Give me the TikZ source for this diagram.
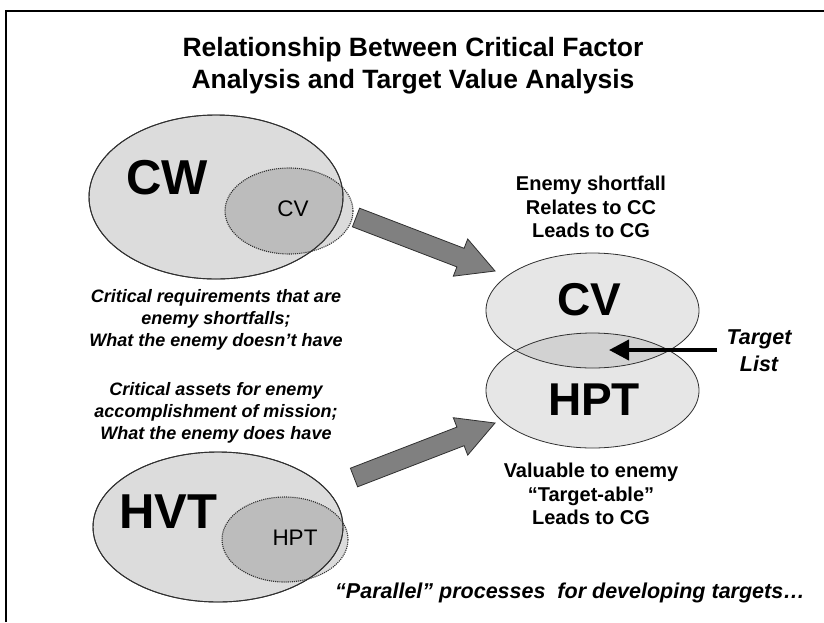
\documentclass[tikz,border=0pt]{standalone}
\usepackage{fontspec}
\setmainfont{Liberation Sans}
\usetikzlibrary{arrows.meta}
\definecolor{ellfill}{HTML}{DCDCDC}
\definecolor{rfill}{HTML}{E6E6E6}
\definecolor{lensfill}{HTML}{D2D2D2}
\definecolor{arrowfill}{HTML}{808080}
\definecolor{edge}{HTML}{303030}
\begin{document}
\begin{tikzpicture}[x=1pt,y=-1pt,
  bigell/.style={draw=edge, line width=0.9pt, fill=ellfill},
  subell/.style={fill=black, fill opacity=0.14},
  subedge/.style={draw=edge, densely dotted, line width=1.1pt},
  rell/.style={draw=edge, line width=0.8pt},
  blockarrow/.style={draw=edge, line width=0.8pt, fill=arrowfill, line join=miter},
  bigtxt/.style={font=\fontsize{46}{50}\selectfont\bfseries, inner sep=0pt},
  leftbig/.style={font=\fontsize{49}{52}\selectfont\bfseries, inner sep=0pt},
  smalltxt/.style={font=\fontsize{22.5}{26}\selectfont, inner sep=0pt},
  notetxt/.style={font=\fontsize{18}{22}\selectfont\bfseries\itshape, align=center, inner sep=0pt},
  sidetxt/.style={font=\fontsize{20}{23.5}\selectfont\bfseries, align=center, inner sep=0pt}
]
\useasboundingbox (0,0) rectangle (824,622);
% frame
\draw[line width=2pt] (6,622) -- (6,11) -- (824,11);

% title
\node[font=\fontsize{26.5}{32}\selectfont\bfseries, align=center, inner sep=0pt] (title) at (413,66)
  {Relationship Between Critical Factor\\Analysis and Target Value Analysis};

% CW group
\coordinate (cwc) at (216,197);
\coordinate (cvc) at (289,211);
\draw[bigell] (cwc) ellipse [x radius=127, y radius=82];
\fill[subell] (cvc) ellipse [x radius=64, y radius=43];
\draw[subedge] (cvc) ellipse [x radius=64, y radius=43];
\draw[draw=edge, line width=0.9pt] (cwc) ellipse [x radius=127, y radius=82];
\node[leftbig] (cw) at (167,178) {CW};
\node[smalltxt] (cvsmall) at (293,209) {CV};

% HVT group
\coordinate (hvtc) at (218,527);
\coordinate (hptc) at (285,539.5);
\draw[bigell] (hvtc) ellipse [x radius=125, y radius=75];
\fill[subell] (hptc) ellipse [x radius=63, y radius=42.5];
\draw[subedge] (hptc) ellipse [x radius=63, y radius=42.5];
\draw[draw=edge, line width=0.9pt] (hvtc) ellipse [x radius=125, y radius=75];
\node[leftbig] (hvt) at (168,512) {HVT};
\node[smalltxt] (hptsmall) at (295,538) {HPT};

% left notes
\node[notetxt] (note1) at (216,320) {Critical requirements that are\\enemy shortfalls;\\What the enemy doesn't have};
\node[notetxt] (note2) at (216,413) {Critical assets for enemy\\accomplishment of mission;\\What the enemy does have};

% right ellipses
\coordinate (rcv) at (592.5,310.5);
\coordinate (rhpt) at (592.5,390.5);
\fill[rfill] (rcv) ellipse [x radius=106.5, y radius=57.5];
\fill[rfill] (rhpt) ellipse [x radius=106.5, y radius=57.5];
\begin{scope}
  \clip (rcv) ellipse [x radius=106.5, y radius=57.5];
  \fill[lensfill] (rhpt) ellipse [x radius=106.5, y radius=57.5];
\end{scope}
\draw[rell] (rcv) ellipse [x radius=106.5, y radius=57.5];
\draw[rell] (rhpt) ellipse [x radius=106.5, y radius=57.5];
\node[bigtxt] (cvbig) at (589,300) {CV};
\node[bigtxt] (hptbig) at (594,400) {HPT};

\node[sidetxt] (above) at (591,207) {Enemy shortfall\\Relates to CC\\Leads to CG};
\node[sidetxt] (below) at (591,494) {Valuable to enemy\\“Target-able”\\Leads to CG};

% target list
\node[font=\fontsize{21.5}{27}\selectfont\bfseries\itshape, align=center, inner sep=0pt] (tlist) at (759,351) {Target\\List};
\coordinate (tstart) at (717,350);
\coordinate (ttip) at (609,350);
\draw[line width=4pt, -{Triangle[length=20pt,width=20pt]}] (tstart) -- (ttip);

% block arrows
\draw[blockarrow] (359.6,208.2) -- (464.1,248.3) -- (467.7,239) -- (495,271) -- (453.3,276.2) -- (456.9,266.9) -- (352.4,226.8) -- cycle;
\draw[blockarrow] (357.6,486.8) -- (464.1,445.7) -- (467.7,455.1) -- (495,423) -- (453.3,417.7) -- (456.9,427.1) -- (350.4,468.2) -- cycle;

% bottom
\node[font=\fontsize{21.5}{25}\selectfont\bfseries\itshape, inner sep=0pt] (bottom) at (570,593) {“Parallel” processes\ \ for developing\ targets…};
\end{tikzpicture}
\end{document}
